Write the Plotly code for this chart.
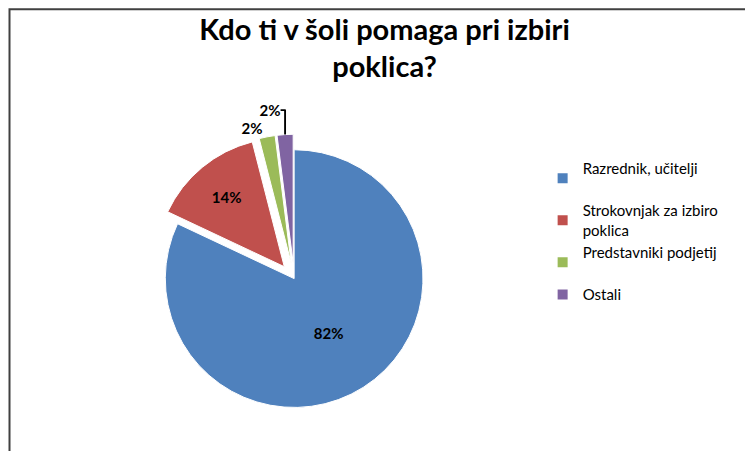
import plotly.graph_objects as go

labels = ["Razrednik, učitelji<br> ", "Strokovnjak za izbiro<br>poklica", "Predstavniki podjetij<br> ", "Ostali"]
values = [82, 14, 2, 2]
colors = ["#4F81BD", "#C0504D", "#9BBB59", "#8064A2"]

fig = go.Figure(go.Pie(
    labels=labels, values=values, sort=False, direction="clockwise", rotation=0,
    pull=[0, 0.12, 0.12, 0.12],
    marker=dict(colors=colors, line=dict(color="white", width=1)),
    texttemplate="<b>%{percent:.0%}</b>", textposition=["inside", "inside", "outside", "outside"],
    textfont=dict(size=15, color="black", family="Lato"),
    insidetextorientation="horizontal",
    domain=dict(x=[0.1, 0.66], y=[0.08, 0.72]),
))
fig.update_layout(
    width=753, height=451, paper_bgcolor="white",
    font=dict(family="Lato", size=15, color="black"),
    title=dict(text="<b>Kdo ti v šoli pomaga pri izbiri<br>poklica?</b>", x=0.5, xanchor="center",
               y=0.93, yanchor="top", font=dict(size=29, family="Lato")),
    legend=dict(x=0.71, y=0.68, yanchor="top", font=dict(size=15), itemsizing="constant"),
    margin=dict(l=0, r=0, t=0, b=0, autoexpand=False),
    shapes=[dict(type="rect", xref="paper", yref="paper", x0=0.002, y0=0.003, x1=0.998, y1=0.997,
                 line=dict(color="#404040", width=2))],
)
fig.write_html("out.html")
